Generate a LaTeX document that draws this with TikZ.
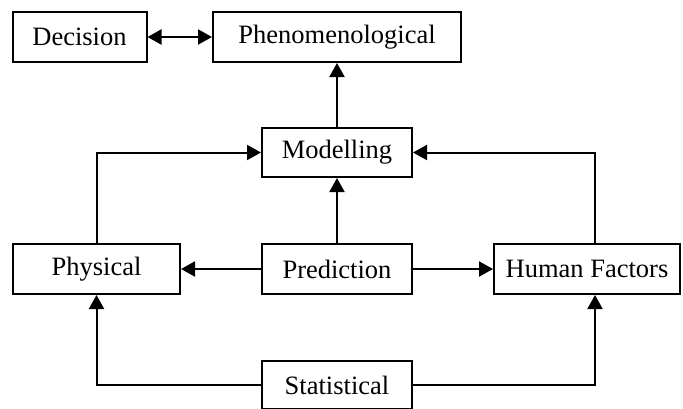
\documentclass[tikz,border=0pt]{standalone}
\usepackage{fontspec}
\setmainfont{Liberation Serif}
\usetikzlibrary{arrows.meta}
\begin{document}
\begin{tikzpicture}[x=1pt,y=-1pt,
  box/.style={draw, line width=2pt, inner sep=0pt, minimum height=50pt,
    font=\fontsize{26.5}{30}\selectfont},
  arr/.style={line width=2pt, -{Triangle[length=14pt,width=15pt]}},
  darr/.style={line width=2pt, {Triangle[length=14pt,width=15pt]}-{Triangle[length=14pt,width=15pt]}}]
\useasboundingbox (0,0) rectangle (683,408);
% boxes
\node[box, minimum width=134pt] (dec)  at (79.5,37)  {Decision};
\node[box, minimum width=248pt] (phen) at (337,37)   {Phenomenological};
\node[box, minimum width=150pt, minimum height=49pt] (mod) at (337,152.5) {Modelling};
\node[box, minimum width=167pt] (phys) at (96.5,269) {Physical};
\node[box, minimum width=150pt] (pred) at (337,269)  {Prediction};
\node[box, minimum width=186pt] (hum)  at (587,269)  {Human Factors};
\node[box, minimum width=150pt, minimum height=48pt] (stat) at (337,385) {Statistical};
% connectors
\draw[darr] (dec) -- (phen);
\draw[arr] (mod) -- (phen);
\draw[arr] (pred) -- (mod);
\draw[arr] (pred) -- (phys);
\draw[arr] (pred) -- (hum);
\draw[arr] (phys.north) |- (mod.west);
\draw[arr] ([xshift=8pt]hum.north) |- (mod.east);
\draw[arr] (stat.west) -| (phys.south);
\draw[arr] (stat.east) -| ([xshift=8pt]hum.south);
\end{tikzpicture}
\end{document}
